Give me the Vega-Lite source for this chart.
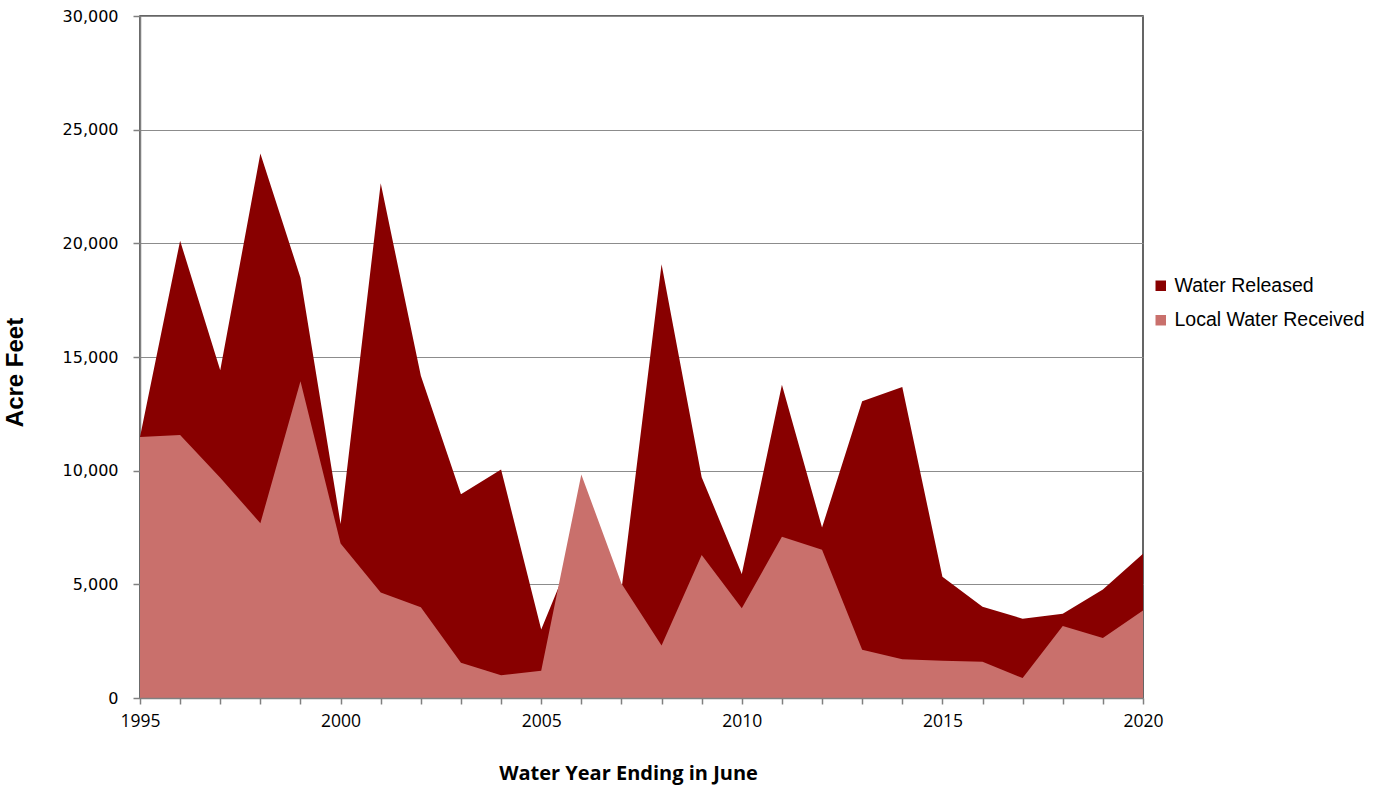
{
  "$schema": "https://vega.github.io/schema/vega-lite/v6.json",
  "autosize": "none",
  "width": 1003,
  "height": 682,
  "padding": {"left": 140, "top": 16, "right": 242, "bottom": 89},
  "background": "white",
  "config": {
    "view": {"stroke": "#333333", "strokeWidth": 1.5},
    "axis": {"labelColor": "#000000", "titleColor": "#000000"}
  },
  "data": {
    "values": [
      {"year": 1995, "series": "Water Released", "acreFeet": 11480},
      {"year": 1996, "series": "Water Released", "acreFeet": 20115},
      {"year": 1997, "series": "Water Released", "acreFeet": 14415},
      {"year": 1998, "series": "Water Released", "acreFeet": 23950},
      {"year": 1999, "series": "Water Released", "acreFeet": 18490},
      {"year": 2000, "series": "Water Released", "acreFeet": 7650},
      {"year": 2001, "series": "Water Released", "acreFeet": 22640},
      {"year": 2002, "series": "Water Released", "acreFeet": 14170},
      {"year": 2003, "series": "Water Released", "acreFeet": 8960},
      {"year": 2004, "series": "Water Released", "acreFeet": 10050},
      {"year": 2005, "series": "Water Released", "acreFeet": 3016},
      {"year": 2006, "series": "Water Released", "acreFeet": 7300},
      {"year": 2007, "series": "Water Released", "acreFeet": 4750},
      {"year": 2008, "series": "Water Released", "acreFeet": 19080},
      {"year": 2009, "series": "Water Released", "acreFeet": 9710},
      {"year": 2010, "series": "Water Released", "acreFeet": 5460},
      {"year": 2011, "series": "Water Released", "acreFeet": 13780},
      {"year": 2012, "series": "Water Released", "acreFeet": 7500},
      {"year": 2013, "series": "Water Released", "acreFeet": 13050},
      {"year": 2014, "series": "Water Released", "acreFeet": 13680},
      {"year": 2015, "series": "Water Released", "acreFeet": 5330},
      {"year": 2016, "series": "Water Released", "acreFeet": 4015},
      {"year": 2017, "series": "Water Released", "acreFeet": 3490},
      {"year": 2018, "series": "Water Released", "acreFeet": 3710},
      {"year": 2019, "series": "Water Released", "acreFeet": 4775},
      {"year": 2020, "series": "Water Released", "acreFeet": 6340},
      {"year": 1995, "series": "Local Water Received", "acreFeet": 11480},
      {"year": 1996, "series": "Local Water Received", "acreFeet": 11566},
      {"year": 1997, "series": "Local Water Received", "acreFeet": 9690},
      {"year": 1998, "series": "Local Water Received", "acreFeet": 7690},
      {"year": 1999, "series": "Local Water Received", "acreFeet": 13930},
      {"year": 2000, "series": "Local Water Received", "acreFeet": 6793},
      {"year": 2001, "series": "Local Water Received", "acreFeet": 4643},
      {"year": 2002, "series": "Local Water Received", "acreFeet": 3990},
      {"year": 2003, "series": "Local Water Received", "acreFeet": 1548},
      {"year": 2004, "series": "Local Water Received", "acreFeet": 1000},
      {"year": 2005, "series": "Local Water Received", "acreFeet": 1200},
      {"year": 2006, "series": "Local Water Received", "acreFeet": 9830},
      {"year": 2007, "series": "Local Water Received", "acreFeet": 5040},
      {"year": 2008, "series": "Local Water Received", "acreFeet": 2313},
      {"year": 2009, "series": "Local Water Received", "acreFeet": 6295},
      {"year": 2010, "series": "Local Water Received", "acreFeet": 3953},
      {"year": 2011, "series": "Local Water Received", "acreFeet": 7090},
      {"year": 2012, "series": "Local Water Received", "acreFeet": 6526},
      {"year": 2013, "series": "Local Water Received", "acreFeet": 2117},
      {"year": 2014, "series": "Local Water Received", "acreFeet": 1708},
      {"year": 2015, "series": "Local Water Received", "acreFeet": 1635},
      {"year": 2016, "series": "Local Water Received", "acreFeet": 1591},
      {"year": 2017, "series": "Local Water Received", "acreFeet": 876},
      {"year": 2018, "series": "Local Water Received", "acreFeet": 3168},
      {"year": 2019, "series": "Local Water Received", "acreFeet": 2643},
      {"year": 2020, "series": "Local Water Received", "acreFeet": 3854}
    ]
  },
  "encoding": {
    "x": {
      "field": "year",
      "type": "quantitative",
      "scale": {"domain": [1995, 2020], "nice": false, "zero": false},
      "axis": {
        "values": [1995,1996,1997,1998,1999,2000,2001,2002,2003,2004,2005,2006,2007,2008,2009,2010,2011,2012,2013,2014,2015,2016,2017,2018,2019,2020],
        "labelExpr": "datum.value % 5 === 0 ? datum.value + '' : ''",
        "grid": false,
        "domainColor": "#808080",
        "domainWidth": 1.5,
        "tickColor": "#808080",
        "tickSize": 6,
        "tickWidth": 1.5,
        "labelFont": "Open Sans",
        "labelFontSize": 17.5,
        "labelPadding": 8,
        "labelFlush": false,
        "labelOverlap": false,
        "title": "Water Year Ending in June",
        "titleFont": "Open Sans",
        "titleFontSize": 20,
        "titleFontWeight": "bold",
        "titlePadding": 34,
        "titleX": 488,
        "zindex": 1
      }
    },
    "y": {
      "field": "acreFeet",
      "type": "quantitative",
      "stack": null,
      "scale": {"domain": [0, 30000], "nice": false},
      "axis": {
        "values": [0, 5000, 10000, 15000, 20000, 25000, 30000],
        "format": ",d",
        "grid": true,
        "gridColor": "#8c8c8c",
        "gridWidth": 1.2,
        "domainColor": "#808080",
        "domainWidth": 1.5,
        "tickColor": "#808080",
        "tickSize": 7,
        "tickWidth": 1.5,
        "labelFont": "DejaVu Sans",
        "labelFontSize": 16,
        "labelPadding": 15,
        "labelFlush": false,
        "title": "Acre Feet",
        "titleFont": "Liberation Sans",
        "titleFontSize": 24,
        "titleFontWeight": "bold",
        "titlePadding": 35,
        "titleY": 356,
        "zindex": 0
      }
    },
    "color": {
      "field": "series",
      "type": "nominal",
      "scale": {"domain": ["Water Released", "Local Water Received"], "range": ["#880000", "#c9706c"]},
      "legend": {
        "title": null,
        "orient": "none",
        "legendX": 1011,
        "legendY": 260,
        "symbolType": "square",
        "symbolSize": 110,
        "symbolStrokeWidth": 0,
        "labelFont": "Liberation Sans",
        "labelFontSize": 19.5,
        "labelColor": "#000000",
        "labelOffset": 4,
        "labelLimit": 400,
        "rowPadding": 13.5
      }
    }
  },
  "layer": [
    {
      "transform": [{"filter": "datum.series === 'Water Released'"}],
      "mark": {"type": "area", "opacity": 1}
    },
    {
      "transform": [{"filter": "datum.series === 'Local Water Received'"}],
      "mark": {"type": "area", "opacity": 1}
    }
  ]
}
